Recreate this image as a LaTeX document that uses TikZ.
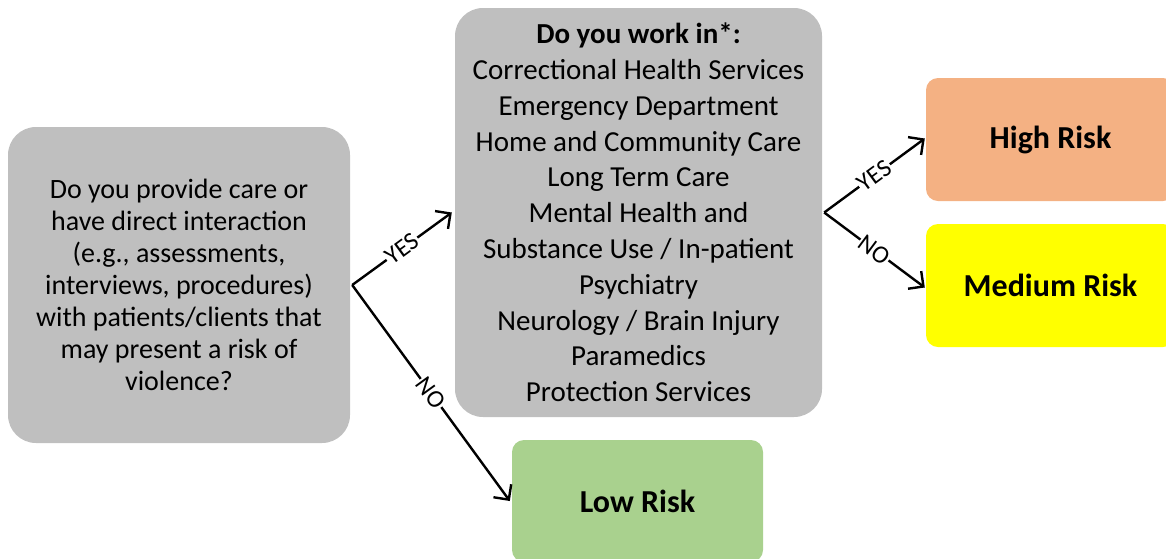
\documentclass[tikz,border=0pt]{standalone}
\usepackage{fontspec}
\setmainfont{Carlito}
\usetikzlibrary{arrows.meta}
\definecolor{boxgray}{HTML}{BFBFBF}
\definecolor{highrisk}{HTML}{F4B183}
\definecolor{medrisk}{HTML}{FFFF00}
\definecolor{lowrisk}{HTML}{A9D18E}
\tikzset{
  question/.style={fill=boxgray, rounded corners=28pt, align=center,
    font=\fontsize{28}{32}\selectfont, inner sep=0pt},
  riskbox/.style={rounded corners=12pt, align=center, inner sep=0pt,
    minimum height=123pt, font=\fontsize{32}{36}\selectfont\bfseries},
  answer/.style={fill=white, sloped, inner sep=1pt,
    font=\fontsize{25}{28}\selectfont},
  flow/.style={line width=2.4pt, -{Straight Barb[length=11pt,width=22pt,line width=2.4pt]}}
}
\begin{document}
\begin{tikzpicture}[x=1pt,y=-1pt]
      \useasboundingbox (0,0) rectangle (1166,558);
      \draw
        (179,285) node[question, minimum width=342pt, minimum height=316pt] (q)
          {Do you provide care or\\ have direct interaction\\ (e.g., assessments,\\
           interviews, procedures)\\ with patients/clients that\\ may present a risk of\\ violence?}
        (638.5,212.5) node[question, minimum width=367pt, minimum height=409pt,
          font=\fontsize{29}{35.8}\selectfont] (work)
          {\textbf{Do you work in*:}\\ Correctional Health Services\\ Emergency Department\\
           Home and Community Care\\ Long Term Care\\ Mental Health and\\
           Substance Use / In-patient\\ Psychiatry\\ Neurology / Brain Injury\\
           Paramedics\\ Protection Services}
        (1050.5,139.5) node[riskbox, fill=highrisk, minimum width=249pt] (high) {High Risk}
        (1050.5,285.5) node[riskbox, fill=medrisk, minimum width=249pt] (medium) {Medium Risk}
        (637.5,501) node[riskbox, fill=lowrisk, minimum width=251pt, minimum height=122pt] (low) {Low Risk};
      \coordinate (qfork) at ([xshift=2pt]q.east);
      \coordinate (workfork) at ([xshift=2pt]work.east);
      \begin{scope}[flow]
        \draw (qfork) -- node[answer] {YES} ([xshift=-3pt]work.west);
        \draw (qfork) -- node[answer] {NO} ([xshift=-2pt]low.west);
        \draw (workfork) -- node[answer] {YES} ([xshift=-1pt,yshift=1pt]high.west);
        \draw (workfork) -- node[answer] {NO} ([xshift=-1pt,yshift=-2pt]medium.west);
      \end{scope}
    \end{tikzpicture}
\end{document}
